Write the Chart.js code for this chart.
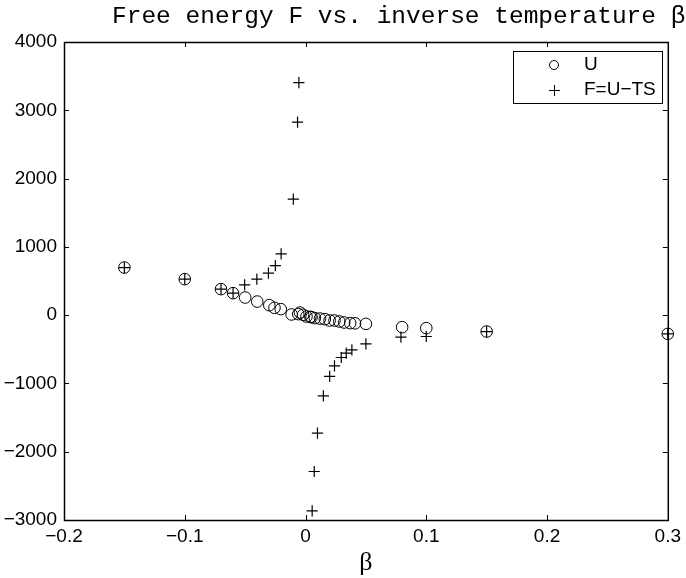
<!DOCTYPE html>
<html>
<head>
<meta charset="utf-8">
<script src="https://cdn.jsdelivr.net/npm/chart.js@4/dist/chart.umd.min.js"></script>
<style>
html,body{margin:0;padding:0;background:#fff;}
#wrap{width:686px;height:578px;position:relative;}
</style>
</head>
<body>
<div id="wrap"><canvas id="c" width="686" height="578"></canvas></div>
<script>
// ---- data ----
const titleText = "Free energy F vs. inverse temperature \u03b2";
const xLabel = "\u03b2";
const xTicks = [-0.2, -0.1, 0, 0.1, 0.2, 0.3];
const yTicks = [-3000, -2000, -1000, 0, 1000, 2000, 3000, 4000];

const uLabel = "U";
const uBeta = [-0.15, -0.1, -0.07, -0.06, -0.05, -0.04, -0.03, -0.0257, -0.0205, -0.0115, -0.006, -0.0046, -0.002, 0.0008, 0.004, 0.005, 0.0077, 0.012, 0.016, 0.02, 0.024, 0.028, 0.032, 0.037, 0.041, 0.05, 0.08, 0.1, 0.15, 0.3];
const uVals = [697, 527, 381, 322, 258, 199, 146, 107, 88, 10, 15, 38, 5, -20, -25, -30, -44, -50, -59, -78, -78, -93, -108, -117, -120, -128, -176, -190, -240, -274];

const fLabel = "F=U\u2212TS";
const fBeta = [-0.15, -0.1, -0.07, -0.06, -0.0504, -0.0403, -0.0307, -0.025, -0.0202, -0.0101, -0.0066, -0.0055, 0.0055, 0.0072, 0.0099, 0.0148, 0.02, 0.024, 0.0296, 0.0337, 0.0384, 0.05, 0.079, 0.1, 0.15, 0.3];
const fVals = [697, 527, 381, 322, 444, 527, 615, 726, 897, 1698, 2826, 3405, -2865, -2290, -1728, -1181, -898, -742, -620, -557, -508, -420, -322, -313, -240, -274];

const toPts = (xs, ys) => xs.map((x, i) => ({x: x, y: ys[i]}));
const fmt = v => (v === 0 ? "0" : String(v)).replace("-", "\u2212");

const framePlugin = {
  id: "frame",
  beforeDatasetsDraw(chart) {
    const {ctx, chartArea: a, scales} = chart;
    ctx.save();
    ctx.strokeStyle = "#000";
    ctx.lineWidth = 1;
    const tl = 5;
    ctx.beginPath();
    xTicks.forEach(v => {
      const p = Math.round(scales.x.getPixelForValue(v)) + 0.5;
      ctx.moveTo(p, a.bottom); ctx.lineTo(p, a.bottom - tl);
      ctx.moveTo(p, a.top); ctx.lineTo(p, a.top + tl);
    });
    yTicks.forEach(v => {
      const p = Math.round(scales.y.getPixelForValue(v)) + 0.5;
      ctx.moveTo(a.left, p); ctx.lineTo(a.left + tl, p);
      ctx.moveTo(a.right, p); ctx.lineTo(a.right - tl, p);
    });
    ctx.stroke();
    ctx.lineWidth = 1.5;
    ctx.strokeRect(a.left + 0.5, a.top + 0.5, a.right - a.left, a.bottom - a.top);
    ctx.restore();
  },
  afterDraw(chart) {
    const {ctx, chartArea: a} = chart;
    ctx.save();
    // title
    ctx.fillStyle = "#000";
    ctx.font = "24.5px 'Liberation Mono', 'DejaVu Sans Mono', monospace";
    ctx.textAlign = "left";
    ctx.textBaseline = "middle";
    ctx.fillText(titleText, 112, 17);
    // x axis label
    ctx.font = "26px 'Liberation Serif', 'DejaVu Serif', serif";
    ctx.textAlign = "center";
    ctx.fillText(xLabel, (a.left + a.right) / 2, 563);
    // legend box
    const bx = 513, by = 51, bw = 149, bh = 52;
    ctx.fillStyle = "#fff";
    ctx.fillRect(bx, by, bw, bh);
    ctx.strokeStyle = "#000";
    ctx.lineWidth = 1;
    ctx.strokeRect(bx + 0.5, by + 0.5, bw, bh);
    ctx.fillStyle = "#000";
    ctx.font = "19px 'Liberation Sans', Arial, sans-serif";
    ctx.textAlign = "left";
    ctx.textBaseline = "middle";
    const ds = chart.data.datasets;
    // circle symbol
    ctx.beginPath();
    ctx.arc(554, 65, 4.5, 0, Math.PI * 2);
    ctx.stroke();
    ctx.fillText(ds[0].label, 584, 65);
    // plus symbol
    ctx.beginPath();
    ctx.moveTo(549, 90.5); ctx.lineTo(560, 90.5);
    ctx.moveTo(554.5, 85); ctx.lineTo(554.5, 96);
    ctx.stroke();
    ctx.fillText(ds[1].label, 584, 90);
    ctx.restore();
  }
};

new Chart(document.getElementById("c"), {
  type: "scatter",
  data: {
    datasets: [
      {label: uLabel, data: toPts(uBeta, uVals), pointStyle: "circle", pointRadius: 5.8, pointHoverRadius: 5.8,
       borderColor: "#000", backgroundColor: "rgba(0,0,0,0)", pointBorderWidth: 1, clip: false},
      {label: fLabel, data: toPts(fBeta, fVals), pointStyle: "cross", pointRadius: 5.6, pointHoverRadius: 5.6,
       borderColor: "#000", backgroundColor: "rgba(0,0,0,0)", pointBorderWidth: 1.2, clip: false}
    ]
  },
  options: {
    responsive: false,
    animation: false,
    events: [],
    layout: {padding: {left: 0, right: 14, top: 42, bottom: 0}},
    plugins: {legend: {display: false}, title: {display: false}, tooltip: {enabled: false}},
    scales: {
      x: {
        type: "linear", min: -0.2, max: 0.3,
        afterBuildTicks: s => { s.ticks = xTicks.map(v => ({value: v})); },
        afterFit: s => { s.height = 58; },
        grid: {display: false, drawTicks: false},
        border: {display: false},
        ticks: {padding: 5, color: "#000", maxRotation: 0, autoSkip: false,
                font: {family: "'Liberation Sans', Arial, sans-serif", size: 19},
                callback: v => fmt(v)}
      },
      y: {
        type: "linear", min: -3000, max: 4000,
        afterBuildTicks: s => { s.ticks = yTicks.map(v => ({value: v})); },
        afterFit: s => { s.width = 64; },
        grid: {display: false, drawTicks: false},
        border: {display: false},
        ticks: {padding: 7, color: "#000", autoSkip: false,
                font: {family: "'Liberation Sans', Arial, sans-serif", size: 19},
                callback: v => fmt(v)}
      }
    }
  },
  plugins: [framePlugin]
});
</script>
</body>
</html>
